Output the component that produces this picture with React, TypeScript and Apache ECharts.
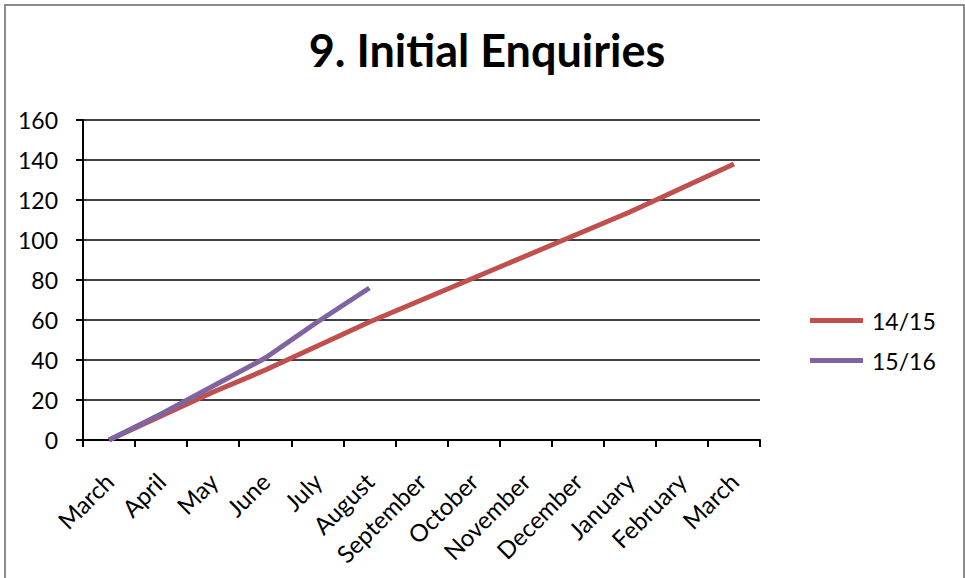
import React, { useEffect, useRef } from "react";
import * as echarts from "echarts";

const months = [
  "March", "April", "May", "June", "July", "August", "September",
  "October", "November", "December", "January", "February", "March",
];
const series1415 = [0, 12, 24, 35, 47, 59, 70, 81, 92, 103, 114, 126, 138];
const series1516 = [0, 13, 27, 41, 59, 76];
const seriesNames = ["14/15", "15/16"];
const yTicks = { min: 0, max: 160, interval: 20 };

const FONT = "Lato, 'Open Sans', sans-serif";

export default function App() {
  const ref = useRef<HTMLDivElement>(null);
  useEffect(() => {
    if (!ref.current) return;
    const chart = echarts.init(ref.current, undefined, { renderer: "svg" });
    chart.setOption({
      animation: false,
      backgroundColor: "#ffffff",
      title: {
        text: "9. Initial Enquiries",
        left: 482,
        textAlign: "center",
        top: 22,
        textStyle: { fontFamily: FONT, fontWeight: "bold", fontSize: 45, color: "#000" },
      },
      graphic: [
        {
          type: "rect",
          shape: { x: 5, y: 5, width: 959, height: 600 },
          style: { fill: "none", stroke: "#8c8c8c", lineWidth: 2 },
          silent: true,
          z: -1,
        },
      ],
      legend: {
        orient: "vertical",
        left: 810,
        top: 309,
        padding: 0,
        itemWidth: 53,
        itemHeight: 5,
        itemGap: 17,
        icon: "rect",
        textStyle: { fontFamily: FONT, fontSize: 23, color: "#000", padding: [0, 0, 0, 4] },
        data: seriesNames,
      },
      grid: { left: 83, right: 205, top: 120, bottom: 138, containLabel: false },
      xAxis: {
        type: "category",
        data: months,
        boundaryGap: true,
        axisLine: { lineStyle: { color: "#000", width: 2 } },
        axisTick: { show: true, length: 7, lineStyle: { color: "#000", width: 2 } },
        axisLabel: {
          rotate: 45,
          interval: 0,
          margin: 37,
          padding: [17, 0, 0, 0],
          fontFamily: FONT,
          fontSize: 24,
          color: "#000",
        },
      },
      yAxis: {
        type: "value",
        min: yTicks.min,
        max: yTicks.max,
        interval: yTicks.interval,
        axisLine: { show: true, lineStyle: { color: "#000", width: 2 } },
        axisTick: { show: true, length: 7, lineStyle: { color: "#000", width: 2 } },
        axisLabel: { fontFamily: FONT, fontSize: 23, color: "#000", margin: 25 },
        splitLine: { show: true, lineStyle: { color: "#000", width: 1.5 } },
      },
      series: [
        {
          name: seriesNames[0],
          type: "line",
          data: series1415,
          symbol: "none",
          lineStyle: { color: "#C0504D", width: 5 },
          itemStyle: { color: "#C0504D" },
        },
        {
          name: seriesNames[1],
          type: "line",
          data: series1516,
          symbol: "none",
          lineStyle: { color: "#8064A2", width: 5 },
          itemStyle: { color: "#8064A2" },
        },
      ],
    });
    return () => chart.dispose();
  }, []);
  return (
    <div
      ref={ref}
      style={{ position: "fixed", left: 0, top: 0, width: 965, height: 578 }}
    />
  );
}
